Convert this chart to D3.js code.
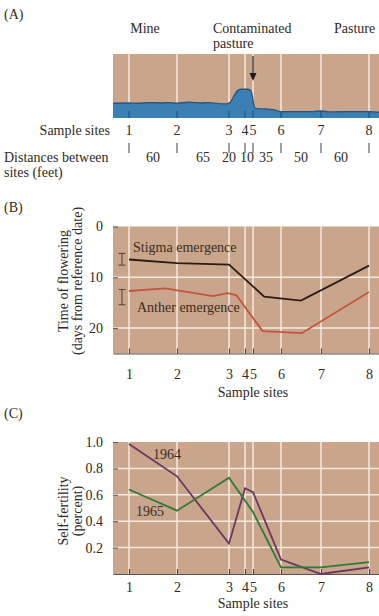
<!DOCTYPE html>
<html><head><meta charset="utf-8">
<script src="https://cdn.jsdelivr.net/npm/d3@7"></script>
<style>
html,body{margin:0;padding:0;background:#fff;}
svg{display:block;font-family:"Liberation Serif","Times New Roman",serif;}
</style></head>
<body><svg id="c" width="379" height="616"></svg>
<script>
// ---------- DATA ----------
const sites = [1, 2, 3, 4, 5, 6, 7, 8];
const gaps = [60, 65, 20, 10, 35, 50, 60]; // distances between sites (feet)
const zones = ["Mine", "Contaminated", "Pasture"];
// Panel A: soil contamination profile (relative), along distance from site 1 (ft)
const profDist = [-20, 0, 10, 25, 40, 50, 60, 75, 90, 100, 112, 122, 127, 131, 135, 140, 148, 152, 154, 156, 158, 170, 180, 190, 200, 230, 240, 250, 280, 300, 312.5];
const profVal  = [0.23, 0.235, 0.23, 0.24, 0.235, 0.24, 0.23, 0.245, 0.235, 0.24, 0.225, 0.22, 0.25, 0.34, 0.42, 0.45, 0.45, 0.43, 0.35, 0.2, 0.15, 0.14, 0.13, 0.1, 0.1, 0.1, 0.11, 0.095, 0.1, 0.1, 0.09];
// Panel B: time of flowering (days from reference date)
const stigmaDist = [0, 60, 125, 169, 215, 300];
const stigmaDays = [6.5, 7.2, 7.5, 13.8, 14.6, 7.7];
const antherDist = [0, 45, 105, 123, 134, 167, 216, 300];
const antherDays = [12.7, 12.2, 13.7, 13.1, 13.5, 20.6, 21.0, 12.9];
const stigmaErr = [5.3, 7.6];
const antherErr = [12.4, 15.4];
const bTicks = [0, 10, 20];
// Panel C: self-fertility
const sf1964Sites = [1, 2, 3, 4, 5, 6, 7, 8];
const sf1964 = [0.985, 0.74, 0.23, 0.65, 0.62, 0.11, 0.0, 0.05];
const sf1965Sites = [1, 2, 3, 5, 6, 7, 8];
const sf1965 = [0.64, 0.48, 0.73, 0.47, 0.05, 0.05, 0.09];
const cTicks = [0.2, 0.4, 0.6, 0.8, 1.0];

// ---------- SETUP ----------
const svg = d3.select("#c");
const siteDist = [0, ...d3.cumsum(gaps)];
const L = 113, R = 379;
const x = d3.scaleLinear().domain([-20, 312.5]).range([L, R]);
const sx = s => x(siteDist[s - 1]);
const TAN = "#c9a58b", WHITE = "#f5eadf", TXT = "#2f2a26";
const FS = 14;

function txt(g, xx, yy, s, anchor = "start", fill = TXT, size = FS) {
  return g.append("text").attr("x", xx).attr("y", yy).attr("text-anchor", anchor)
    .attr("fill", fill).attr("font-size", size).text(s);
}

// ---------- PANEL A ----------
const A = svg.append("g");
const yA = d3.scaleLinear().domain([0, 1]).range([118, 54]);
txt(A, 4, 19, "(A)");
txt(A, x(20), 33, zones[0], "middle");
txt(A, 213, 33, zones[1], "start");
txt(A, 213, 48, "pasture", "start");
txt(A, x(282), 33, zones[2], "middle");
A.append("rect").attr("x", L).attr("y", yA(1)).attr("width", R - L).attr("height", yA(0) - yA(1)).attr("fill", TAN);
A.selectAll(".vl").data(sites).join("line")
  .attr("x1", sx).attr("x2", sx).attr("y1", yA(1)).attr("y2", yA(0))
  .attr("stroke", WHITE).attr("stroke-width", 1.5);
const prof = profDist.map((d, i) => [d, profVal[i]]);
A.append("path").datum(prof)
  .attr("d", d3.area().x(d => x(d[0])).y0(yA(0)).y1(d => yA(d[1])).curve(d3.curveMonotoneX))
  .attr("fill", "#3b80b4");
A.append("path").datum(prof)
  .attr("d", d3.line().x(d => x(d[0])).y(d => yA(d[1])).curve(d3.curveMonotoneX))
  .attr("fill", "none").attr("stroke", "#27567e").attr("stroke-width", 1.4);
A.selectAll(".bt").data(sites).join("line")
  .attr("x1", sx).attr("x2", sx).attr("y1", yA(0) - 7).attr("y2", yA(0))
  .attr("stroke", "#22507a").attr("stroke-width", 1.2);
// arrow at site 5
const ax = sx(5);
A.append("line").attr("x1", ax).attr("x2", ax).attr("y1", 56).attr("y2", 74).attr("stroke", "#1a1a1a").attr("stroke-width", 1.2);
A.append("path").attr("d", `M${ax - 3.5},73 L${ax + 3.5},73 L${ax},81 Z`).attr("fill", "#1a1a1a");
// site row
txt(A, 110, 135, "Sample sites", "end");
A.selectAll(".sl").data(sites).join("text")
  .attr("x", sx).attr("y", 135).attr("text-anchor", "middle").attr("fill", TXT).attr("font-size", FS).text(d => d);
A.selectAll(".tk").data(sites).join("line")
  .attr("x1", sx).attr("x2", sx).attr("y1", 143).attr("y2", 153)
  .attr("stroke", "#444").attr("stroke-width", 1);
txt(A, 4, 162, "Distances between");
txt(A, 4, 177, "sites (feet)");
const gapDx = [0, 0, -8, -2, -1, 0, -4];
A.selectAll(".gl").data(gaps).join("text")
  .attr("x", (d, i) => (x(siteDist[i]) + x(siteDist[i + 1])) / 2 + gapDx[i])
  .attr("y", 162).attr("text-anchor", "middle").attr("fill", TXT).attr("font-size", FS).text(d => d);

// ---------- shared plot frame ----------
function frame(g, y, ticks, fmt, grid, top, bottom, pad) {
  g.append("rect").attr("x", L).attr("y", top).attr("width", R - L).attr("height", bottom - top).attr("fill", TAN);
  g.selectAll(".hg").data(grid).join("line")
    .attr("x1", L).attr("x2", R).attr("y1", y).attr("y2", y)
    .attr("stroke", WHITE).attr("stroke-width", 1.5);
  g.selectAll(".vg").data(sites).join("line")
    .attr("x1", sx).attr("x2", sx).attr("y1", top).attr("y2", bottom)
    .attr("stroke", WHITE).attr("stroke-width", 1.5);
  const ya = g.append("g").attr("transform", `translate(${L},0)`)
    .call(d3.axisLeft(y).tickValues(ticks).tickFormat(fmt).tickSizeInner(-5).tickSizeOuter(0).tickPadding(10));
  ya.select(".domain").remove();
  ya.selectAll("line").attr("stroke", "#555");
  ya.selectAll("text").attr("font-size", FS).attr("fill", TXT).attr("font-family", "Liberation Serif");
  const xa = g.append("g").attr("transform", `translate(0,${bottom})`)
    .call(d3.axisBottom(x).tickValues(siteDist).tickFormat((d, i) => sites[i]).tickSizeInner(-5).tickSizeOuter(0).tickPadding(pad));
  xa.select(".domain").attr("stroke", "#555").attr("stroke-width", 1.2);
  xa.selectAll("line").attr("stroke", "#444");
  xa.selectAll("text").attr("font-size", FS).attr("fill", TXT).attr("font-family", "Liberation Serif");
}

// ---------- PANEL B ----------
const B = svg.append("g");
const yB = d3.scaleLinear().domain([0, 25]).range([226.5, 353.5]);
txt(B, 4, 212, "(B)");
frame(B, yB, bTicks, d3.format("d"), [10, 20], yB(0), yB(25), 16);
const lineB = d3.line().x(d => x(d[0])).y(d => yB(d[1]));
B.append("path").datum(stigmaDist.map((d, i) => [d, stigmaDays[i]])).attr("d", lineB)
  .attr("fill", "none").attr("stroke", "#2a1c14").attr("stroke-width", 1.8);
B.append("path").datum(antherDist.map((d, i) => [d, antherDays[i]])).attr("d", lineB)
  .attr("fill", "none").attr("stroke", "#c5543c").attr("stroke-width", 1.8);
[stigmaErr, antherErr].forEach(e => {
  const ex = 122;
  const g = B.append("g").attr("stroke", "#5a4a40").attr("stroke-width", 1.1);
  g.append("line").attr("x1", ex).attr("x2", ex).attr("y1", yB(e[0])).attr("y2", yB(e[1]));
  g.append("line").attr("x1", ex - 3.5).attr("x2", ex + 3.5).attr("y1", yB(e[0])).attr("y2", yB(e[0]));
  g.append("line").attr("x1", ex - 3.5).attr("x2", ex + 3.5).attr("y1", yB(e[1])).attr("y2", yB(e[1]));
});
txt(B, 133, 252, "Stigma emergence", "start", "#3a2c24");
txt(B, 137, 312, "Anther emergence", "start", "#3a2c24");
txt(B, 253, 397, "Sample sites", "middle");
const bl = B.append("g").attr("transform", "translate(0,281) rotate(-90)");
txt(bl, 0, 68, "Time of flowering", "middle");
txt(bl, 0, 82, "(days from reference date)", "middle");

// ---------- PANEL C ----------
const C = svg.append("g");
const yC = d3.scaleLinear().domain([0, 1]).range([574, 442]);
txt(C, 4, 418, "(C)");
frame(C, yC, cTicks, d3.format(".1f"), [0.2, 0.4, 0.6, 0.8], yC(1), yC(0), 8);
const lineC = d3.line().x(d => sx(d[0])).y(d => yC(d[1]));
C.append("path").datum(sf1964Sites.map((s, i) => [s, sf1964[i]])).attr("d", lineC)
  .attr("fill", "none").attr("stroke", "#6b3566").attr("stroke-width", 1.8);
C.append("path").datum(sf1965Sites.map((s, i) => [s, sf1965[i]])).attr("d", lineC)
  .attr("fill", "none").attr("stroke", "#2f7a36").attr("stroke-width", 1.8);
txt(C, 153, 459, "1964", "start", "#3a2c24");
txt(C, 136, 516, "1965", "start", "#3a2c24");
txt(C, 253, 608, "Sample sites", "middle");
const cl = C.append("g").attr("transform", "translate(0,511) rotate(-90)");
txt(cl, 0, 68, "Self-fertility", "middle");
txt(cl, 0, 82, "(percent)", "middle");
</script></body></html>
